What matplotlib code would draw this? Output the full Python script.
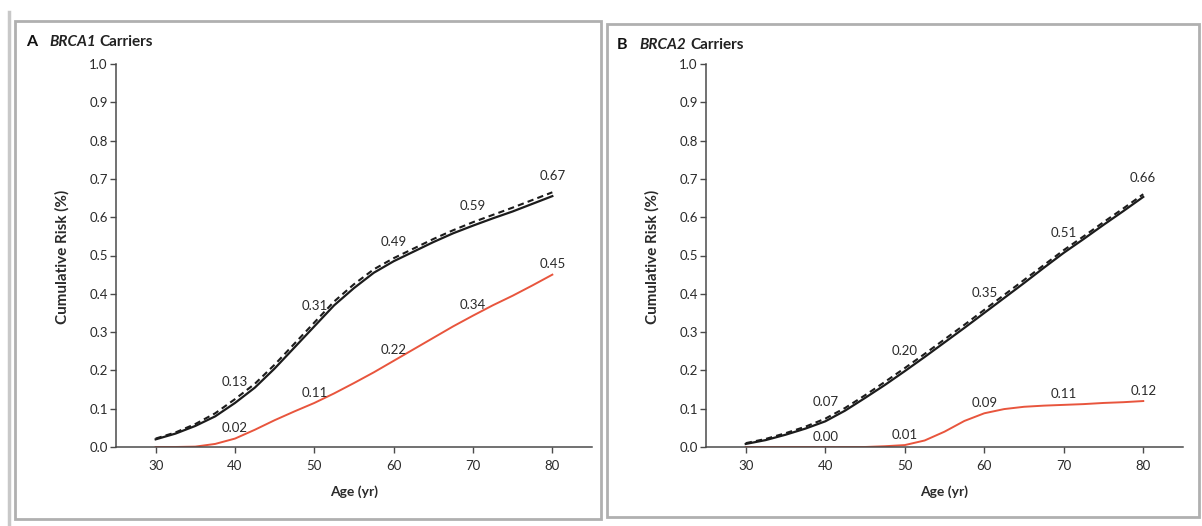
import matplotlib
matplotlib.use("Agg")
import matplotlib.pyplot as plt
from matplotlib.patches import Rectangle
from matplotlib.lines import Line2D

# ---------------- data ----------------
ages = [30, 32.5, 35, 37.5, 40, 42.5, 45, 47.5, 50, 52.5, 55, 57.5, 60,
        62.5, 65, 67.5, 70, 72.5, 75, 77.5, 80]

brca1_solid = [0.02, 0.035, 0.055, 0.08, 0.115, 0.155, 0.205, 0.26, 0.315, 0.37, 0.415,
               0.455, 0.485, 0.51, 0.535, 0.558, 0.578, 0.597, 0.615, 0.635, 0.655]
brca1_dashed = [0.022, 0.038, 0.06, 0.088, 0.125, 0.165, 0.215, 0.27, 0.325, 0.38, 0.425,
                0.464, 0.493, 0.518, 0.543, 0.566, 0.587, 0.606, 0.625, 0.645, 0.665]
brca1_red = [0.0, 0.0, 0.001, 0.008, 0.022, 0.045, 0.07, 0.093, 0.115, 0.14, 0.167,
             0.195, 0.225, 0.255, 0.285, 0.315, 0.343, 0.37, 0.395, 0.422, 0.45]

brca2_solid = [0.008, 0.018, 0.032, 0.048, 0.067, 0.095, 0.128, 0.162, 0.198, 0.235, 0.273,
               0.311, 0.35, 0.389, 0.428, 0.468, 0.507, 0.543, 0.58, 0.616, 0.653]
brca2_dashed = [0.01, 0.021, 0.036, 0.053, 0.074, 0.102, 0.135, 0.17, 0.206, 0.243, 0.281,
                0.319, 0.358, 0.397, 0.436, 0.475, 0.514, 0.55, 0.587, 0.623, 0.66]
brca2_red = [0.0, 0.0, 0.0, 0.0, 0.0, 0.0, 0.0, 0.002, 0.005, 0.017, 0.04,
             0.068, 0.088, 0.099, 0.105, 0.108, 0.11, 0.112, 0.115, 0.117, 0.12]

label_ages = [40, 50, 60, 70, 80]
brca1_black_labels = ["0.13", "0.31", "0.49", "0.59", "0.67"]
brca1_red_labels = ["0.02", "0.11", "0.22", "0.34", "0.45"]
brca2_black_labels = ["0.07", "0.20", "0.35", "0.51", "0.66"]
brca2_red_labels = ["0.00", "0.01", "0.09", "0.11", "0.12"]

x_ticks = [30, 40, 50, 60, 70, 80]
y_ticks = [0.0, 0.1, 0.2, 0.3, 0.4, 0.5, 0.6, 0.7, 0.8, 0.9, 1.0]

panel_letters = ["A", "B"]
panel_genes = ["BRCA1", "BRCA2"]

# ---------------- style ----------------
plt.rcParams['font.family'] = ['Lato', 'DejaVu Sans']
BLACK = "#1c1c1c"
RED = "#e8553d"
AXC = "#4a4a4a"
TXT = "#2a2a2a"

W, H = 1202, 526
fig = plt.figure(figsize=(W / 100, H / 100), dpi=100)
fig.patch.set_facecolor("white")
renderer = fig.canvas.get_renderer()


def fx(px):
    return px / W


def fy(py):
    return 1 - py / H


# frames
frame_col = "#b0b0b0"
fig.add_artist(Rectangle((fx(15), fy(519)), fx(601) - fx(15), fy(21) - fy(519),
                         transform=fig.transFigure, fill=False, ec=frame_col, lw=2.0))
fig.add_artist(Line2D([fx(9), fx(9)], [fy(12), fy(526)], transform=fig.transFigure,
                      color="#c8c8c8", lw=2.5))
fig.add_artist(Rectangle((fx(607), fy(517)), fx(1199) - fx(607), fy(24) - fy(517),
                         transform=fig.transFigure, fill=False, ec=frame_col, lw=2.0))

axes_px = [(116, 592), (706, 1183)]
datasets = [
    (brca1_solid, brca1_dashed, brca1_red, brca1_black_labels, brca1_red_labels),
    (brca2_solid, brca2_dashed, brca2_red, brca2_black_labels, brca2_red_labels),
]
title_px = [(26, 42), (617, 45)]
ylabel_px = [62, 652]

for i, ((l, r), (solid, dashed, red, blab, rlab)) in enumerate(zip(axes_px, datasets)):
    ax = fig.add_axes([fx(l), fy(447), fx(r) - fx(l), fy(64) - fy(447)])
    ax.plot(ages, solid, color=BLACK, lw=1.6)
    ax.plot(ages, dashed, color=BLACK, lw=1.5, ls=(0, (3, 2)))
    ax.plot(ages, red, color=RED, lw=1.4)

    for age, txt in zip(label_ages, blab):
        v = dashed[ages.index(age)]
        ax.annotate(txt, xy=(age, v), xytext=(0, 12), textcoords="offset points",
                    ha="center", va="center", fontsize=9.5, color=TXT)
    for age, txt in zip(label_ages, rlab):
        v = red[ages.index(age)]
        ax.annotate(txt, xy=(age, v), xytext=(0, 7.5), textcoords="offset points",
                    ha="center", va="center", fontsize=9.5, color=TXT)

    ax.set_xlim(25, 85)
    ax.set_ylim(0, 1.0)
    ax.set_xticks(x_ticks)
    ax.set_yticks(y_ticks)
    ax.set_yticklabels([f"{t:.1f}" for t in y_ticks])
    for s in ["top", "right"]:
        ax.spines[s].set_visible(False)
    for s in ["left", "bottom"]:
        ax.spines[s].set_color(AXC)
        ax.spines[s].set_linewidth(1.1)
    ax.tick_params(axis="both", direction="out", length=4, width=1, color=AXC,
                   labelsize=9.5, labelcolor=TXT, pad=2)
    ax.tick_params(axis="x", pad=5)
    ax.set_facecolor("none")

    ax.set_xlabel("Age (yr)", fontsize=10, fontweight="bold", color=TXT, labelpad=10)
    fig.text(fx(ylabel_px[i]), fy(257), "Cumulative Risk (%)", rotation=90,
             ha="center", va="center", fontsize=11, fontweight="bold", color=TXT)

    tx, ty = title_px[i]
    t1 = fig.text(fx(tx), fy(ty), panel_letters[i], ha="left", va="center",
                  fontsize=11.5, fontweight="bold", color="#111111")
    x_next = t1.get_window_extent(renderer).x1 + 12
    t2 = fig.text(x_next / W, fy(ty), panel_genes[i], ha="left", va="center",
                  fontsize=11, fontweight="bold", fontstyle="italic", color="#222222")
    x_next = t2.get_window_extent(renderer).x1 + 4
    fig.text(x_next / W, fy(ty), "Carriers", ha="left", va="center",
             fontsize=11, fontweight="bold", color="#222222")

fig.savefig("out.png", dpi=100)
